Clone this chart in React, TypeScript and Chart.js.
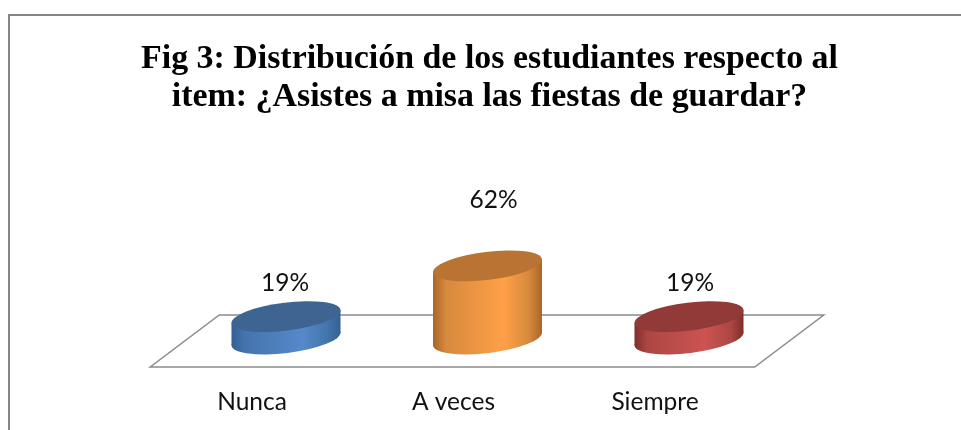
import React, { useEffect, useRef } from "react";
import { Chart, registerables } from "chart.js";

Chart.register(...registerables);

const categories = ["Nunca", "A veces", "Siempre"];
const percentages = [19, 62, 19];
const valueLabels = ["19%", "62%", "19%"];
const titleLines = [
  "Fig 3: Distribución de los estudiantes respecto al",
  "item: ¿Asistes a misa las fiestas de guardar?",
];
const capColors = ["#3e6491", "#b97433", "#913a38"];
const sideEdgeColors = ["#345f92", "#a96628", "#7f2e2c"];
const sideShoulderColors = ["#4474ad", "#d68a3c", "#ad4744"];
const sideMidColors = ["#5589c9", "#ffa048", "#cc5350"];
const labelLift = [33, 66, 33];
const labelShift = [-1, 6, 1];

const FONT = "Lato, Carlito, sans-serif";
const TILT = (-7 * Math.PI) / 180;
const MINOR = 14;

const cylinderPlugin = {
  id: "cylinderPlugin",
  beforeDraw(chart: any) {
    const { ctx } = chart;
    ctx.save();
    ctx.strokeStyle = "#868686";
    ctx.lineWidth = 2;
    ctx.beginPath();
    ctx.moveTo(9, 430);
    ctx.lineTo(9, 15);
    ctx.lineTo(961, 15);
    ctx.stroke();
    ctx.restore();
  },
  beforeDatasetsDraw(chart: any) {
    const { ctx, scales } = chart;
    const base = scales.y.getPixelForValue(0);
    const { left, right } = scales.x;
    ctx.save();
    ctx.strokeStyle = "#8c8c8c";
    ctx.lineWidth = 1.5;
    ctx.beginPath();
    ctx.moveTo(left - 35, base + 28);
    ctx.lineTo(right - 35, base + 28);
    ctx.lineTo(right + 34, base - 24);
    ctx.lineTo(left + 34, base - 24);
    ctx.closePath();
    ctx.stroke();
    ctx.restore();
  },
  beforeDatasetDraw() {
    return false;
  },
  afterDatasetsDraw(chart: any) {
    const { ctx } = chart;
    const bars = chart.getDatasetMeta(0).data;
    bars.forEach((bar: any, i: number) => {
      const a = bar.width / 2 / Math.sqrt(Math.cos(TILT) ** 2 + (MINOR / (bar.width / 2)) ** 2 * Math.sin(TILT) ** 2);
      const xExt = bar.width / 2;
      const tangentY = ((a * a - MINOR * MINOR) * Math.sin(TILT) * Math.cos(TILT)) / xExt;
      const grad = ctx.createLinearGradient(bar.x - xExt, 0, bar.x + xExt, 0);
      grad.addColorStop(0, sideEdgeColors[i]);
      grad.addColorStop(0.12, sideShoulderColors[i]);
      grad.addColorStop(0.65, sideMidColors[i]);
      grad.addColorStop(0.88, sideShoulderColors[i]);
      grad.addColorStop(1, sideEdgeColors[i]);
      ctx.save();
      ctx.fillStyle = grad;
      ctx.beginPath();
      ctx.ellipse(bar.x, bar.base, a, MINOR, TILT, 0, Math.PI * 2);
      ctx.fill();
      ctx.beginPath();
      ctx.moveTo(bar.x - xExt, bar.base - tangentY);
      ctx.lineTo(bar.x + xExt, bar.base + tangentY);
      ctx.lineTo(bar.x + xExt, bar.y + tangentY);
      ctx.lineTo(bar.x - xExt, bar.y - tangentY);
      ctx.closePath();
      ctx.fill();
      ctx.fillStyle = capColors[i];
      ctx.beginPath();
      ctx.ellipse(bar.x, bar.y, a, MINOR, TILT, 0, Math.PI * 2);
      ctx.fill();
      ctx.fillStyle = "#111111";
      ctx.font = `24.5px ${FONT}`;
      ctx.textAlign = "center";
      ctx.textBaseline = "middle";
      ctx.fillText(valueLabels[i], bar.x + labelShift[i], bar.y - labelLift[i]);
      ctx.restore();
    });
  },
};

export default function App() {
  const ref = useRef<HTMLCanvasElement>(null);
  useEffect(() => {
    const chart = new Chart(ref.current as HTMLCanvasElement, {
      type: "bar",
      data: {
        labels: categories,
        datasets: [
          {
            data: percentages,
            backgroundColor: sideMidColors,
            categoryPercentage: 1,
            barPercentage: 0.541,
          },
        ],
      },
      options: {
        responsive: false,
        animation: false,
        devicePixelRatio: 1,
        layout: { padding: { left: 18, right: 0, top: 0, bottom: 0 } },
        plugins: {
          legend: { display: false },
          tooltip: { enabled: false },
          title: {
            display: true,
            text: titleLines,
            color: "#000000",
            font: { family: "'Liberation Serif', serif", size: 33.9, weight: "bold", lineHeight: 1.12 },
            padding: { top: 40.5, bottom: 104.6 },
          },
        },
        scales: {
          x: {
            grid: { display: false, drawTicks: false },
            border: { display: false },
            ticks: {
              color: "#111111",
              font: { family: FONT, size: 24.5 },
              padding: 48,
              labelOffset: -34,
              autoSkip: false,
              maxRotation: 0,
            },
            afterFit(s: any) {
              s.height = 91;
            },
          },
          y: {
            min: 0,
            max: 100,
            position: "left",
            grid: { display: false, drawTicks: false },
            border: { display: false },
            ticks: { display: false },
            afterFit(s: any) {
              s.width = 167.25;
            },
          },
          spacer: {
            type: "linear",
            position: "right",
            grid: { display: false, drawTicks: false },
            border: { display: false },
            ticks: { display: false },
            afterFit(s: any) {
              s.width = 171.25;
            },
          },
        },
      },
      plugins: [cylinderPlugin],
    } as any);
    return () => chart.destroy();
  }, []);
  return (
    <canvas
      ref={ref}
      width={961}
      height={430}
      style={{ position: "absolute", left: 0, top: 0, display: "block" }}
    />
  );
}
